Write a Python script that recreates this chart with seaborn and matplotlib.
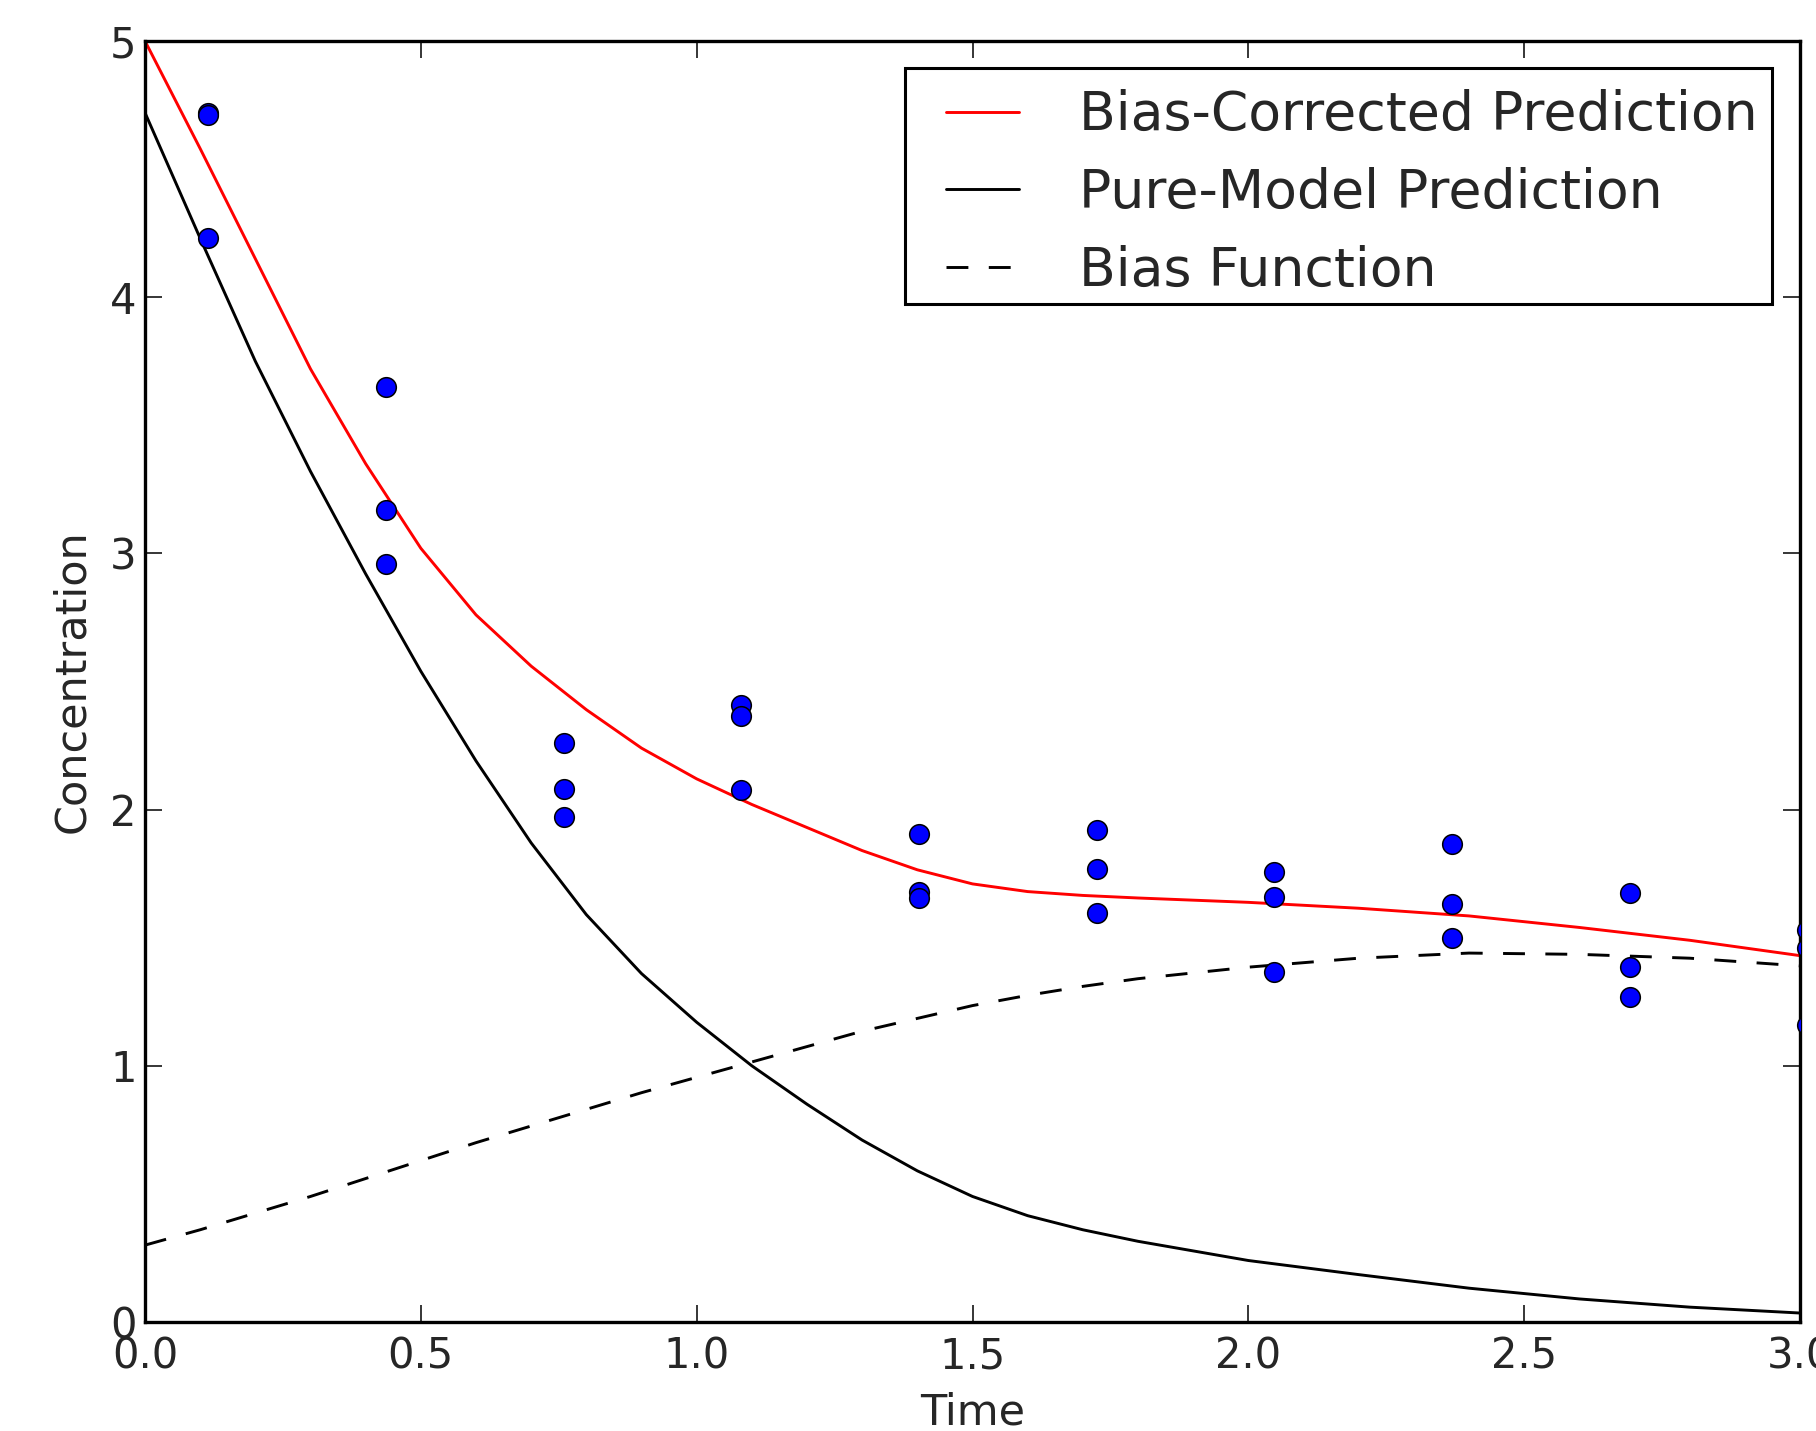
import numpy as np
import pandas as pd
import seaborn as sns
import matplotlib
matplotlib.use("Agg")
import matplotlib.pyplot as plt
from matplotlib.lines import Line2D
from matplotlib.legend_handler import HandlerLine2D

# measured concentrations (3 replicates per sampling time)
obs_time = [0.115] * 3 + [0.437] * 3 + [0.759] * 3 + [1.081] * 3 + [1.403] * 3 + \
           [1.725] * 3 + [2.047] * 3 + [2.369] * 3 + [2.691] * 3 + [3.013] * 3
obs_conc = [4.72, 4.71, 4.23,
            3.65, 3.17, 2.96,
            2.26, 2.08, 1.97,
            2.41, 2.365, 2.075,
            1.905, 1.68, 1.655,
            1.92, 1.77, 1.595,
            1.758, 1.66, 1.366,
            1.865, 1.633, 1.50,
            1.676, 1.386, 1.27,
            1.53, 1.46, 1.16]

# curves
curve_time = [0.0, 0.1, 0.2, 0.3, 0.4, 0.5, 0.6, 0.7, 0.8, 0.9, 1.0, 1.1, 1.2,
              1.3, 1.4, 1.5, 1.6, 1.7, 1.8, 2.0, 2.2, 2.4, 2.6, 2.8, 3.0]
corrected = [5.00, 4.58, 4.15, 3.72, 3.35, 3.02, 2.76, 2.56, 2.39, 2.24, 2.12, 2.02, 1.93,
             1.84, 1.765, 1.71, 1.68, 1.665, 1.655, 1.638, 1.615, 1.585, 1.54, 1.49, 1.43]
pure_model = [4.72, 4.23, 3.75, 3.32, 2.92, 2.54, 2.19, 1.87, 1.59, 1.36, 1.17, 1.00, 0.85,
              0.71, 0.59, 0.49, 0.415, 0.36, 0.315, 0.24, 0.185, 0.132, 0.09, 0.058, 0.035]
bias = [0.30, 0.36, 0.425, 0.49, 0.56, 0.63, 0.70, 0.765, 0.83, 0.895, 0.955, 1.015, 1.075,
        1.135, 1.185, 1.235, 1.275, 1.31, 1.34, 1.385, 1.42, 1.44, 1.435, 1.42, 1.39]

sns.set_style("ticks")
plt.rcParams["font.family"] = ["DejaVu Sans"]
plt.rcParams["xtick.direction"] = "in"
plt.rcParams["ytick.direction"] = "in"
plt.rcParams["xtick.top"] = True
plt.rcParams["ytick.right"] = True

fig = plt.figure(figsize=(18.16, 14.31), dpi=100)
ax = fig.add_axes([145 / 1816, 1 - 1322 / 1431, 1655 / 1816, 1281 / 1431])

sns.lineplot(x=curve_time, y=corrected, color="red", linewidth=2.1, sort=False,
             label="Bias-Corrected Prediction", ax=ax)
sns.lineplot(x=curve_time, y=pure_model, color="black", linewidth=2.1, sort=False,
             label="Pure-Model Prediction", ax=ax)
sns.lineplot(x=curve_time, y=bias, color="black", linewidth=2.1, sort=False,
             linestyle=(0, (7.5, 7)), label="Bias Function", ax=ax)
sns.scatterplot(x=obs_time, y=obs_conc, color="blue", s=200, edgecolor="black",
                linewidth=1.1, legend=False, zorder=3, ax=ax)
for coll in ax.collections:
    coll.set_clip_on(True)
    coll.set_clip_path(ax.patch)

ax.set_xlim(0, 3)
ax.set_ylim(0, 5)
ax.set_xticks(np.arange(0, 3.01, 0.5))
ax.set_xticklabels(["0.0", "0.5", "1.0", "1.5", "2.0", "2.5", "3.0"])
ax.set_yticks(range(6))
ax.set_yticklabels([str(i) for i in range(6)])
ax.tick_params(axis="both", length=12.5, width=1.1, labelsize=30, color="black")
ax.tick_params(axis="x", pad=10)
ax.tick_params(axis="y", pad=6)
for sp in ax.spines.values():
    sp.set_linewidth(2.4)
    sp.set_color("black")
ax.set_xlabel("Time", fontsize=31, labelpad=10)
ax.set_ylabel("Concentration", fontsize=31, labelpad=12)

leg = ax.legend(loc="upper right", bbox_to_anchor=(0.983, 0.979), borderaxespad=0,
                fontsize=38.6, fancybox=False, framealpha=1, edgecolor="black",
                handlelength=1.85, handletextpad=1.12, labelspacing=0.48, borderpad=0.27,
                handler_map={Line2D: HandlerLine2D(xpad=0.5)})
leg.get_frame().set_linewidth(2.2)
# entries sit a little low inside the frame in the original
for txt in leg.get_texts():
    txt.set_y(-7)
for hl in leg.get_lines():
    hl.set_ydata(np.asarray(hl.get_ydata()) - 5)

fig.savefig("out.png", dpi=100, facecolor="white")
